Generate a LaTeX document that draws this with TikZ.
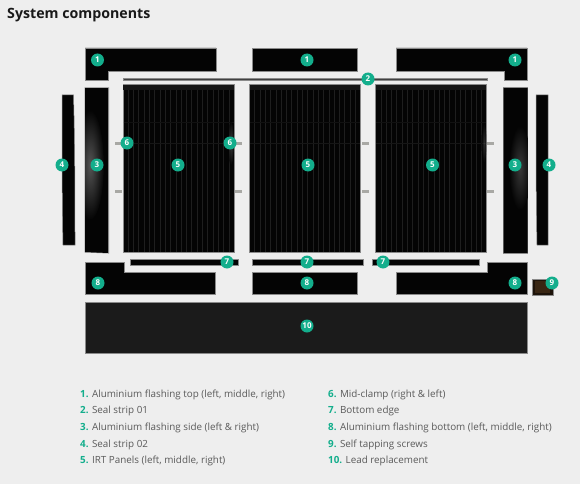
\documentclass[tikz,border=0pt]{standalone}
\usepackage{fontspec}
\setmainfont{Open Sans}
\definecolor{bgc}{HTML}{EEEEEE}
\definecolor{teal}{HTML}{13AE8C}
\definecolor{txt}{HTML}{5A5A5A}
\definecolor{edge}{HTML}{8A8A8A}
\definecolor{sheet}{HTML}{040404}
\definecolor{stripe}{HTML}{1E1E1E}
\definecolor{lead}{HTML}{1B1B1B}
\definecolor{clampc}{HTML}{A8A8A4}
\tikzset{
  badge/.style={circle,fill=teal,text=white,inner sep=0pt,minimum size=13pt,font=\bfseries\fontsize{8}{9}\selectfont},
  sheetp/.style={fill=sheet,draw=edge,line width=0.5pt},
  legend/.style={anchor=base west,inner sep=0pt,text=txt,font=\fontsize{9.85}{12}\selectfont},
  clampp/.style={fill=clampc,draw=none},
}
\newcommand{\num}[1]{\textcolor{teal}{\textbf{#1}}}
\newcommand{\irtpanel}[1]{%
  \begin{scope}[shift={(#1,84.5)}]
    \fill[sheet,draw=edge,line width=0.5pt] (0,0) rectangle (111,167.5);
    \fill[stripe!70!sheet] (0,0.5) rectangle (110.5,5.5);
    \foreach \k in {1,...,20}{
      \draw[stripe,line width=1pt] ({\k*5.3},6) -- ({\k*5.3},167);
    }
    \draw[stripe!70!sheet,line width=0.5pt] (0.5,58.5) -- (110.5,58.5);
    \draw[stripe!50!sheet,line width=0.4pt] (0.5,38) -- (110.5,38);
  \end{scope}}
\begin{document}
\begin{tikzpicture}[x=1pt,y=-1pt]
\useasboundingbox (0,0) rectangle (580,484);
\fill[bgc] (0,0) rectangle (580,484);
\node[anchor=base west,inner sep=0pt,font=\bfseries\fontsize{14.2}{16}\selectfont,text=black!90] (title) at (7,18.5) {System components};

% clamps
\foreach \cx in {115,234.5,361.5,487}{
  \foreach \cy in {141.5,189.5}{
    \fill[clampp] (\cx,\cy) rectangle ++(7,3.5);
  }
}
% flashing top
\draw[sheetp] (85,48) -- (216,48) -- (216,71) -- (108,71) -- (108,80) -- (85,80) -- cycle;
\draw[sheetp] (252.5,48) rectangle (357,71);
\draw[sheetp] (396,48) -- (527,48) -- (527,80) -- (504,80) -- (504,71) -- (396,71) -- cycle;
% seal strip 01
\fill[black!75,draw=edge,line width=0.3pt] (123,78.2) rectangle (487,80);
% side flashing
\begin{scope}
  \path[draw=edge,line width=1pt] (85,88) -- (108.5,88) -- (108.5,253) -- (85,252) -- cycle;
  \clip (85,88) -- (108.5,88) -- (108.5,253) -- (85,252) -- cycle;
  \fill[sheet] (85,88) rectangle (109,253);
  \shade[inner color=white!33!black,outer color=sheet] (90,165) ellipse (14 and 55);
\end{scope}
\begin{scope}
  \path[draw=edge,line width=1pt] (503.5,88) -- (527.5,88) -- (527.5,253) -- (503.5,253) -- cycle;
  \clip (503.5,88) -- (527.5,88) -- (527.5,253) -- (503.5,253) -- cycle;
  \fill[sheet] (503,88) rectangle (528,253);
  \shade[inner color=white!22!black,outer color=sheet] (520,168) ellipse (11 and 42);
\end{scope}
% seal strip 02
\draw[sheetp] (62,95) -- (73.5,95) .. controls (75,150) and (75,200) .. (75,245) -- (63,245) .. controls (62,200) and (62,150) .. (62,95) -- cycle;
\draw[sheetp] (536,95) -- (548,95) .. controls (548,150) and (548,200) .. (548,245) -- (537,245) .. controls (536,200) and (536,150) .. (536,95) -- cycle;
% panels
\irtpanel{123}
\irtpanel{249.5}
\irtpanel{375.7}
% panel glows
\shade[inner color=white!45!black,outer color=sheet,opacity=0.5] (231,143) ellipse (3 and 22);
\shade[inner color=white!35!black,outer color=sheet,opacity=0.45] (484,143) ellipse (2.5 and 20);
% bottom edge
\draw[sheetp] (130,259) -- (238,259) -- (238,265) -- (130,265) -- cycle;
\draw[sheetp] (252,259) rectangle (363,265);
\draw[sheetp] (372,259) rectangle (479,265);
% flashing bottom
\draw[sheetp] (85,262) -- (124,262) -- (124,272) -- (215,272) -- (215,294.5) -- (85,294.5) -- cycle;
\draw[sheetp] (252.5,272) rectangle (357,294.5);
\draw[sheetp] (396.5,272) -- (487.5,272) -- (487.5,262) -- (527,262) -- (527,294.5) -- (396.5,294.5) -- cycle;
% screws
\fill[black!85!brown,draw=edge,line width=0.4pt] (532,279.5) rectangle (553,295);
\fill[brown!45!black,opacity=.5] (535,281) rectangle (550,293);
% lead
\fill[lead,draw=edge,line width=0.5pt] (85,302.5) rectangle (527,353);

% badges
\node[badge] (a1) at (97.5,60) {1};
\node[badge] (a2) at (307,60) {1};
\node[badge] (a3) at (515,60) {1};
\node[badge] (b1) at (368,79) {2};
\node[badge] (c1) at (97,165) {3};
\node[badge] (c2) at (515,165) {3};
\node[badge] (d1) at (62,165) {4};
\node[badge] (d2) at (549,165) {4};
\node[badge] (e1) at (178,165) {5};
\node[badge] (e2) at (308,165) {5};
\node[badge] (e3) at (432.5,165) {5};
\node[badge] (f1) at (127,143) {6};
\node[badge] (f2) at (230,143) {6};
\node[badge] (g1) at (227,262) {7};
\node[badge] (g2) at (307,262) {7};
\node[badge] (g3) at (383,262) {7};
\node[badge] (h1) at (98,283) {8};
\node[badge] (h2) at (307,283) {8};
\node[badge] (h3) at (515,283) {8};
\node[badge] (i1) at (552,283) {9};
\node[badge] (j1) at (307,326) {10};

% legend
\node[legend] (l1) at (80,397) {\num{1.} Aluminium flashing top (left, middle, right)};
\node[legend] (l2) at (80,413.5) {\num{2.} Seal strip 01};
\node[legend] (l3) at (80,430) {\num{3.} Aluminium flashing side (left \& right)};
\node[legend] (l4) at (80,447) {\num{4.} Seal strip 02};
\node[legend] (l5) at (80,463.5) {\num{5.} IRT Panels (left, middle, right)};
\node[legend] (l6) at (328,397) {\num{6.} Mid-clamp (right \& left)};
\node[legend] (l7) at (328,413.5) {\num{7.} Bottom edge};
\node[legend] (l8) at (328,430) {\num{8.} Aluminium flashing bottom (left, middle, right)};
\node[legend] (l9) at (328,447) {\num{9.} Self tapping screws};
\node[legend] (l10) at (328,463.5) {\num{10.} Lead replacement};
\end{tikzpicture}
\end{document}
